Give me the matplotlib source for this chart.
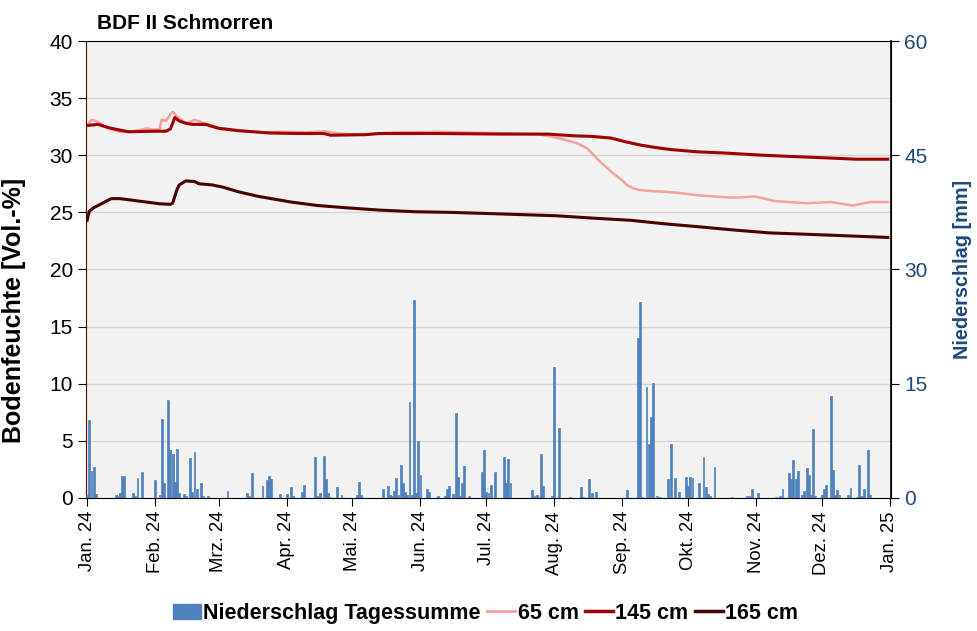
import numpy as np
import matplotlib
matplotlib.use('Agg')
import matplotlib.pyplot as plt
from matplotlib.patches import Patch
from matplotlib.lines import Line2D

plt.rcParams['font.family'] = ['Liberation Sans', 'DejaVu Sans']

start = np.datetime64('2024-01-01')

# Niederschlag Tagessumme [mm]: Tag im Jahr (0 = 1. Jan.) und Menge
rain_day = [0, 1, 2, 3, 4, 13, 14, 15, 16, 17, 21, 22, 23, 25, 31, 33, 34, 35, 37, 38,
            39, 40, 41, 42, 44, 45, 47, 48, 49, 50, 52, 53, 55, 64, 73, 74, 75, 80, 82, 83,
            84, 88, 91, 93, 94, 98, 99, 104, 105, 106, 108, 109, 110, 111, 114, 116, 123, 124, 125, 135,
            137, 138, 139, 140, 141, 142, 143, 144, 145, 146, 147, 148, 149, 150, 151, 152, 155, 156, 160, 163,
            164, 165, 167, 168, 169, 170, 171, 172, 174, 180, 181, 182, 183, 184, 186, 190, 191, 192, 193, 203,
            204, 205, 206, 207, 208, 212, 213, 215, 220, 225, 226, 229, 230, 232, 246, 251, 252, 253, 255, 256,
            257, 258, 260, 261, 265, 266, 268, 270, 273, 274, 275, 276, 279, 281, 282, 283, 284, 286, 294, 301,
            302, 303, 306, 314, 316, 317, 320, 321, 322, 323, 324, 326, 327, 328, 329, 330, 331, 332, 335, 336,
            337, 339, 340, 341, 342, 343, 347, 348, 351, 352, 353, 354, 356, 357]
rain_mm = [0.4, 10.2, 3.5, 4.0, 0.5, 0.4, 0.3, 0.6, 2.9, 2.9, 0.7, 0.3, 2.6, 3.4, 2.4, 0.4, 10.4, 2.0, 12.9, 6.3,
           5.8, 2.1, 6.4, 0.7, 0.5, 0.2, 5.3, 0.8, 6.0, 1.2, 2.0, 0.2, 0.3, 0.9, 0.6, 0.2, 3.3, 1.6, 2.3, 2.9,
           2.5, 0.5, 0.5, 1.4, 0.3, 0.8, 1.7, 5.4, 0.3, 0.7, 5.5, 2.5, 0.6, 0.1, 1.4, 0.4, 0.4, 2.1, 0.4, 1.2,
           1.5, 0.4, 0.2, 0.9, 2.6, 0.4, 4.3, 1.9, 0.8, 0.4, 12.6, 0.4, 26.0, 0.6, 7.5, 3.0, 1.1, 0.8, 0.2, 0.2,
           1.1, 1.6, 0.5, 11.1, 2.7, 0.2, 1.9, 4.2, 0.2, 3.4, 6.3, 0.8, 0.7, 1.7, 3.4, 5.4, 1.9, 5.1, 1.9, 1.0,
           0.3, 0.4, 0.1, 5.8, 1.6, 0.3, 17.2, 9.2, 0.1, 1.4, 0.1, 2.5, 0.7, 0.8, 1.0, 21.0, 25.7, 0.1, 14.5, 7.1,
           10.6, 15.1, 0.3, 0.1, 2.5, 7.1, 2.6, 0.8, 2.7, 1.5, 2.8, 2.6, 1.9, 5.4, 1.4, 0.5, 0.2, 4.0, 0.1, 0.3,
           0.3, 1.1, 0.6, 0.1, 0.2, 1.1, 3.2, 2.5, 5.0, 2.5, 3.5, 0.4, 0.9, 3.9, 3.0, 0.4, 9.1, 0.2, 0.4, 1.2,
           1.7, 13.4, 3.7, 0.4, 1.0, 0.4, 0.4, 1.3, 0.1, 4.3, 0.2, 1.1, 6.3, 0.4]

# Bodenfeuchte [Vol.-%]
day_65 = [0, 2, 4, 6, 8, 12, 15, 20, 24, 27, 30, 33, 34, 36, 38, 39, 41, 43, 45, 47,
          49, 52, 55, 60, 65, 70, 80, 90, 100, 108, 115, 125, 132, 140, 150, 160, 170, 182, 195, 205,
          210, 217, 224, 228, 231, 234, 237, 240, 242, 244, 246, 249, 252, 258, 263, 270, 278, 285, 293, 298,
          304, 309, 313, 320, 328, 334, 339, 344, 349, 353, 357, 365]
vwc_65 = [32.6, 33.1, 33.0, 32.8, 32.5, 32.2, 32.05, 32.1, 32.2, 32.35, 32.25, 32.25, 33.1, 33.0, 33.6, 33.8, 33.4, 33.1, 32.8, 32.9,
          33.1, 32.9, 32.7, 32.4, 32.3, 32.15, 32.0, 32.05, 32.0, 32.1, 31.9, 31.8, 31.9, 32.0, 32.0, 32.05, 32.0, 31.95, 31.9, 31.85,
          31.7, 31.4, 31.0, 30.6, 30.0, 29.4, 28.9, 28.4, 28.1, 27.8, 27.4, 27.1, 26.95, 26.85, 26.8, 26.7, 26.5, 26.4, 26.3, 26.3,
          26.4, 26.2, 26.0, 25.9, 25.8, 25.85, 25.9, 25.75, 25.6, 25.75, 25.9, 25.9]

day_145 = [0, 5, 10, 15, 19, 30, 36, 38, 40, 42, 45, 48, 54, 60, 69, 83, 95, 108, 111, 127,
           133, 160, 190, 210, 222, 230, 239, 245, 252, 260, 266, 278, 290, 308, 320, 333, 351, 365]
vwc_145 = [32.6, 32.7, 32.4, 32.2, 32.05, 32.1, 32.1, 32.3, 33.3, 33.0, 32.8, 32.7, 32.7, 32.35, 32.15, 31.95, 31.9, 31.9, 31.75, 31.8,
           31.9, 31.9, 31.85, 31.85, 31.7, 31.65, 31.5, 31.2, 30.9, 30.65, 30.5, 30.3, 30.2, 30.0, 29.9, 29.8, 29.65, 29.65]

day_165 = [0, 1, 3, 6, 11, 15, 19, 27, 33, 38, 39, 41, 42, 45, 49, 51, 57, 62, 69, 78,
           93, 105, 118, 133, 150, 165, 182, 214, 230, 248, 263, 278, 295, 311, 325, 339, 352, 365]
vwc_165 = [24.3, 25.1, 25.4, 25.7, 26.2, 26.2, 26.1, 25.9, 25.75, 25.7, 25.8, 27.0, 27.4, 27.75, 27.7, 27.5, 27.4, 27.2, 26.8, 26.4,
           25.9, 25.6, 25.4, 25.2, 25.05, 25.0, 24.9, 24.7, 24.5, 24.3, 24.0, 23.75, 23.45, 23.2, 23.1, 23.0, 22.9, 22.8]

month_labels = ['Jan. 24', 'Feb. 24', 'Mrz. 24', 'Apr. 24', 'Mai. 24', 'Jun. 24', 'Jul. 24',
                'Aug. 24', 'Sep. 24', 'Okt. 24', 'Nov. 24', 'Dez. 24', 'Jan. 25']
month_start = [0, 31, 60, 91, 121, 152, 182, 213, 244, 274, 305, 335, 366]

c_rain = '#4F81BD'
c_65 = '#F4A09C'
c_145 = '#A00000'
c_165 = '#4A0000'
c_right = '#1F497D'

def to_dates(days):
    return start + np.array(days).astype('timedelta64[D]')

fig = plt.figure(figsize=(9.77, 6.31), dpi=100)
ax = fig.add_axes([0.088, 0.211, 0.824, 0.724])
ax2 = ax.twinx()

ax.set_facecolor('#F2F2F2')
ax.grid(axis='y', color='#D4D4D4', linewidth=1)
ax.set_axisbelow(True)

ax.plot(to_dates(day_65), vwc_65, color=c_65, lw=1.8)
ax.plot(to_dates(day_145), vwc_145, color=c_145, lw=2.2)
ax.plot(to_dates(day_165), vwc_165, color=c_165, lw=2.2)

ax2.bar(to_dates(rain_day), rain_mm, width=0.85, color=c_rain, edgecolor=c_rain, linewidth=0.5, zorder=3)

ax.set_ylim(0, 40)
ax.set_yticks(np.arange(0, 41, 5))
ax2.set_ylim(0, 60)
ax2.set_yticks(np.arange(0, 61, 15))

ax.set_xlim(start - np.timedelta64(12, 'h'), np.datetime64('2025-01-01T12'))
ax.set_xticks(to_dates(month_start))
ax.set_xticklabels(month_labels, rotation=90, fontsize=13.3)

ax.tick_params(axis='y', labelsize=15, length=6, direction='out')
ax.tick_params(axis='x', length=6, direction='out')
ax2.tick_params(axis='y', labelsize=15, length=6, direction='out', labelcolor=c_right, color='black')

ax.set_ylabel('Bodenfeuchte [Vol.-%]', fontsize=18, fontweight='bold')
ax.yaxis.set_label_coords(-0.074, 0.41)
ax2.set_ylabel('Niederschlag [mm]', fontsize=14.3, fontweight='bold', color=c_right, labelpad=18)

ax.spines['left'].set_color('#5A0000')
for s in ['top', 'right', 'bottom']:
    ax.spines[s].set_color('black')
for s in ax2.spines.values():
    s.set_visible(False)
ax2.spines['right'].set_visible(True)
ax2.spines['right'].set_color('black')
ax2.spines['right'].set_linewidth(1.2)

fig.text(0.099, 0.962, 'BDF II Schmorren', fontsize=15, fontweight='bold', va='center')

handles = [Patch(color=c_rain),
           Line2D([], [], color=c_65, lw=2),
           Line2D([], [], color=c_145, lw=2.5),
           Line2D([], [], color=c_165, lw=2.5)]
labels = ['Niederschlag Tagessumme', '65 cm', '145 cm', '165 cm']
fig.legend(handles, labels, loc='center', bbox_to_anchor=(0.497, 0.028), ncol=4, frameon=False,
           prop={'size': 15.5, 'weight': 'bold'}, handlelength=1.3, handletextpad=0.1, columnspacing=0.3)

fig.savefig('out.png', dpi=100)
